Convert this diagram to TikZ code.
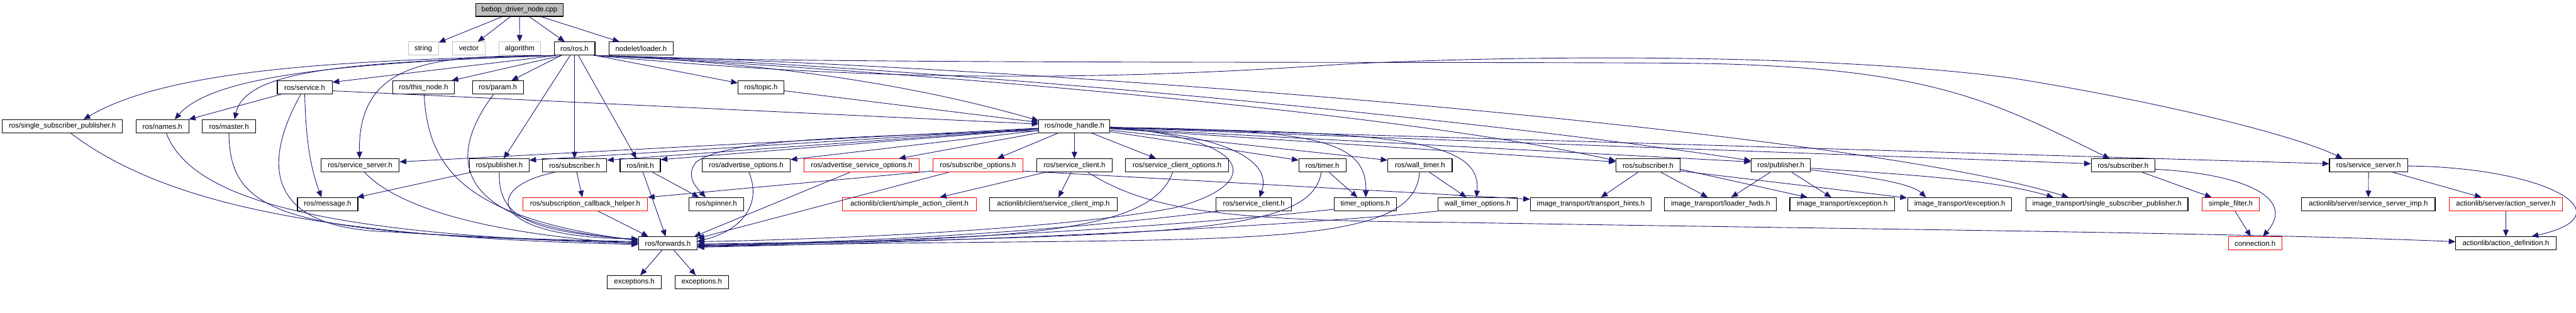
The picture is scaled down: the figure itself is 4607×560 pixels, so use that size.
\documentclass[tikz,border=0pt]{standalone}
\usepackage{fontspec}
\setmainfont{Liberation Sans}
\usetikzlibrary{arrows.meta,calc}
\definecolor{edgec}{HTML}{191970}
\definecolor{gr}{HTML}{BFBFBF}
\begin{document}
\begin{tikzpicture}[x=0.5pt,y=-0.5pt,
  nd/.style={draw=black, fill=white, line width=0.6pt, rectangle, inner sep=0pt, minimum height=11.75pt, font=\fontsize{6.45}{7.5}\selectfont, text=black},
  rednd/.style={nd, draw=red},
  greynd/.style={nd, draw=gr},
  rootnd/.style={nd, fill=gr},
  e/.style={draw=edgec, line width=0.5pt, -{Triangle[length=6pt,width=5pt]}},
]
\useasboundingbox (0,0) rectangle (4607,560);
% row 0/1
\node[rootnd,minimum width=78pt] (cpp) at (929,17.5) {bebop\_driver\_node.cpp};
\node[greynd,minimum width=27pt] (string) at (757,87) {string};
\node[greynd,minimum width=29.5pt] (vector) at (838.5,87) {vector};
\node[greynd,minimum width=37.5pt] (algorithm) at (929.5,87) {algorithm};
\node[nd,minimum width=36.5pt] (ros) at (1027.5,87) {ros/ros.h};
\node[nd,minimum width=57.5pt] (loader) at (1146.5,87) {nodelet/loader.h};
% row 2
\node[nd,minimum width=49pt] (service) at (545,156.5) {ros/service.h};
\node[nd,minimum width=55.5pt] (thisnode) at (757.5,156.5) {ros/this\_node.h};
\node[nd,minimum width=45.5pt] (param) at (890.5,156.5) {ros/param.h};
\node[nd,minimum width=41pt] (topic) at (1361,156.5) {ros/topic.h};
% row 3
\node[nd,minimum width=107.5pt] (ssp) at (111.5,226) {ros/single\_subscriber\_publisher.h};
\node[nd,minimum width=47.5pt] (names) at (290.5,226) {ros/names.h};
\node[nd,minimum width=47.5pt] (master) at (409.5,226) {ros/master.h};
\node[nd,minimum width=63.5pt] (nh) at (1921.5,226) {ros/node\_handle.h};
% row 4
\node[nd,minimum width=70pt] (ssA) at (644,296) {ros/service\_server.h};
\node[nd,minimum width=53pt] (pubA) at (893,296) {ros/publisher.h};
\node[nd,minimum width=57.5pt] (subA) at (1027.5,296) {ros/subscriber.h};
\node[nd,minimum width=36pt] (init) at (1145,296) {ros/init.h};
\node[nd,minimum width=78.5pt] (advopt) at (1334.5,296) {ros/advertise\_options.h};
\node[rednd,minimum width=103pt] (advsrv) at (1541,296) {ros/advertise\_service\_options.h};
\node[rednd,minimum width=80pt] (subopt) at (1749,296) {ros/subscribe\_options.h};
\node[nd,minimum width=67.5pt] (scA) at (1921.5,296) {ros/service\_client.h};
\node[nd,minimum width=92pt] (scopt) at (2105,296) {ros/service\_client\_options.h};
\node[nd,minimum width=42pt] (timer) at (2365,296) {ros/timer.h};
\node[nd,minimum width=57.5pt] (wtimer) at (2539.5,296) {ros/wall\_timer.h};
\node[nd,minimum width=57.5pt] (subB) at (2947.5,296) {ros/subscriber.h};
\node[nd,minimum width=53pt] (pubB) at (3185,296) {ros/publisher.h};
\node[nd,minimum width=57pt] (subC) at (3797,296) {ros/subscriber.h};
\node[nd,minimum width=70pt] (ssB) at (4236,296) {ros/service\_server.h};
% row 5
\node[nd,minimum width=54pt] (message) at (586,365.5) {ros/message.h};
\node[rednd,minimum width=111.5pt] (sch) at (1046.5,365.5) {ros/subscription\_callback\_helper.h};
\node[nd,minimum width=49pt] (spinner) at (1281,365.5) {ros/spinner.h};
\node[rednd,minimum width=119.5pt] (sac) at (1626.5,365.5) {actionlib/client/simple\_action\_client.h};
\node[nd,minimum width=114pt] (scimp) at (1884,365.5) {actionlib/client/service\_client\_imp.h};
\node[nd,minimum width=67.5pt] (scB) at (2242.5,365.5) {ros/service\_client.h};
\node[nd,minimum width=55.5pt] (timeropt) at (2441.5,365.5) {timer\_options.h};
\node[nd,minimum width=70.5pt] (wtimeropt) at (2642.5,365.5) {wall\_timer\_options.h};
\node[nd,minimum width=108pt] (hints) at (2845,365.5) {image\_transport/transport\_hints.h};
\node[nd,minimum width=100pt] (lfwds) at (3077,365.5) {image\_transport/loader\_fwds.h};
\node[nd,minimum width=93.5pt] (excA) at (3294.5,365.5) {image\_transport/exception.h};
\node[nd,minimum width=93pt] (excB) at (3505,365.5) {image\_transport/exception.h};
\node[nd,minimum width=145pt] (itssp) at (3768,365.5) {image\_transport/single\_subscriber\_publisher.h};
\node[rednd,minimum width=51.5pt] (sfilter) at (3989.5,365.5) {simple\_filter.h};
\node[nd,minimum width=119.5pt] (ssimp) at (4235.5,365.5) {actionlib/server/service\_server\_imp.h};
\node[rednd,minimum width=101.5pt] (aserver) at (4481.5,365.5) {actionlib/server/action\_server.h};
% row 6/7
\node[nd,minimum width=52.5pt] (fwd) at (1194.5,435.5) {ros/forwards.h};
\node[rednd,minimum width=48pt] (conn) at (4033,435.5) {connection.h};
\node[nd,minimum width=89.5pt] (adef) at (4481.5,435.5) {actionlib/action\_definition.h};
\node[nd,minimum width=48.5pt] (excs1) at (1134.5,505) {exceptions.h};
\node[nd,minimum width=48pt] (excs2) at (1255,505) {exceptions.h};

% ---- edges from the root
\draw[e] (cpp) -- (string);
\draw[e] (cpp) -- (vector);
\draw[e] (cpp) -- (algorithm);
\draw[e] (cpp) -- (ros);
\draw[e] (cpp) -- (loader);
% ---- ros.h to the left
\draw[e] (ros.south west) .. controls (600,108) and (300,125) .. ($(ssp.north)+(38,0)$);
\draw[e] (ros.south west) .. controls (620,112) and (380,135) .. ($(names.north)+(22,0)$);
\draw[e] (ros.south west) .. controls (650,112) and (440,120) .. ($(master.north)+(10,0)$);
\draw[e] ($(ros.south west)+(4,0)$) -- ($(service.north east)+(0,3)$);
\draw[e] ($(ros.south)+(-23,0)$) -- ($(thisnode.north east)+(-6,0)$);
\draw[e] (ros) -- (param);
\draw[e] ($(ros.south west)+(2,0)$) .. controls (780,100) and (640,105) .. ($(ssA.north)+(-1,0)$);
\draw[e] (ros) -- (pubA);
\draw[e] (ros) -- (subA);
\draw[e] (ros) -- (init);
% ---- ros.h to the right
\draw[e] (ros.south east) -- ($(topic.west)+(0,-8)$);
\draw[e] (ros.south east) .. controls (1450,115) and (1700,170) .. ($(nh.west)+(0,-10)$);
\draw[e] ($(ros.south east)+(-3,0)$) .. controls (1400,115) and (2500,110) .. (3000,113) .. controls (3450,117) and (3560,180) .. ($(subC.north)+(-24,0)$);
\draw[e] (ros.south east) .. controls (1500,140) and (1900,150) .. (2400,115) .. controls (2800,95) and (3300,100) .. (3600,140) .. controls (3850,180) and (4100,240) .. ($(ssB.north west)+(24,0)$);
\draw[e] (ros.south east) .. controls (1600,125) and (2500,200) .. ($(subB.north west)+(0,4)$);
\draw[e] (ros.south east) .. controls (1700,120) and (2700,220) .. ($(pubB.north west)+(0,4)$);
\draw[e] (ros.south east) .. controls (1800,115) and (3300,230) .. ($(itssp.north west)+(77,0)$);
% ---- row 2 sources
\draw[e] ($(service.south west)+(7,0)$) -- ($(names.north east)+(-1,0)$);
\draw[e] ($(service.east)+(0,6)$) -- ($(nh.west)+(0,-4)$);
\draw[e] (service.south) .. controls (547,250) and (555,300) .. ($(message.north)+(-11,0)$);
\draw[e] ($(service.south)+(-7,0)$) .. controls (470,290) and (470,410) .. (700,415) .. controls (900,428) and (1050,430) .. ($(fwd.west)+(0,-3)$);
\draw[e] ($(thisnode.south)+(1,0)$) .. controls (765,300) and (830,390) .. ($(fwd.west)+(0,-5)$);
\draw[e] ($(param.south)+(-8,0)$) .. controls (800,280) and (800,400) .. ($(fwd.west)+(0,-6)$);
\draw[e] ($(topic.east)+(0,6)$) -- ($(nh.west)+(0,-7)$);
% ---- row 3 sources
\draw[e] ($(ssp.south)+(15,0)$) .. controls (300,370) and (600,425) .. ($(fwd.west)+(0,2)$);
\draw[e] ($(names.south)+(7,0)$) .. controls (340,350) and (550,420) .. ($(fwd.west)+(0,0)$);
\draw[e] (master.south) .. controls (410,390) and (520,420) .. ($(fwd.west)+(0,-2)$);
% ---- node_handle.h
\draw[e] (nh) -- ($(ssA.north east)+(0,6)$);
\draw[e] (nh) -- ($(pubA.north east)+(0,3)$);
\draw[e] (nh) -- ($(subA.north east)+(0,3)$);
\draw[e] (nh) -- ($(init.north east)+(0,2)$);
\draw[e] (nh) -- ($(advopt.north east)+(0,2)$);
\draw[e] (nh) -- ($(advsrv.north east)+(-37,0)$);
\draw[e] (nh) -- ($(subopt.north east)+(-46,0)$);
\draw[e] (nh) -- (scA);
\draw[e] (nh) -- ($(scopt.north west)+(55,0)$);
\draw[e] (nh) -- ($(timer.north west)+(0,3)$);
\draw[e] (nh) -- ($(wtimer.north west)+(0,3)$);
\draw[e] (nh) -- ($(subB.north west)+(0,6)$);
\draw[e] (nh) -- ($(pubB.north west)+(0,6)$);
\draw[e] (nh) -- ($(subC.west)+(0,-3)$);
\draw[e] (nh) -- ($(ssB.west)+(0,-3)$);
\draw[e] ($(nh.east)+(0,2)$) .. controls (2350,232) and (2445,250) .. ($(timeropt.north)+(1,0)$);
\draw[e] ($(nh.east)+(0,3)$) .. controls (2500,236) and (2650,250) .. ($(wtimeropt.north)+(-2,0)$);
\draw[e] ($(nh.east)+(0,4)$) .. controls (2200,240) and (2275,290) .. ($(scB.north)+(10,0)$);
\draw[e] ($(nh.west)+(0,8)$) .. controls (1500,245) and (1300,250) .. (1245,290) .. controls (1225,315) and (1245,335) .. ($(spinner.north)+(-19,0)$);
\draw[e] ($(nh.east)+(0,1)$) .. controls (2250,250) and (2260,330) .. (2100,372) .. controls (1900,410) and (1500,428) .. ($(fwd.east)+(0,-3)$);
% ---- row 4 sources (left part)
\draw[e] ($(ssA.south)+(8,0)$) .. controls (720,380) and (900,420) .. ($(fwd.west)+(0,1)$);
\draw[e] ($(pubA.south west)+(3,0)$) -- ($(message.north east)+(-2,0)$);
\draw[e] (pubA.south) .. controls (890,390) and (950,415) .. ($(fwd.west)+(0,-7)$);
\draw[e] ($(subA.south)+(4,0)$) -- ($(sch.north)+(-5,0)$);
\draw[e] ($(subA.south west)+(23,0)$) .. controls (860,335) and (870,425) .. ($(fwd.west)+(0,-8)$);
\draw[e] ($(sch.south)+(23,0)$) -- ($(fwd.north west)+(18,0)$);
\draw[e] ($(init.south)+(22,0)$) -- ($(spinner.north)+(-31,0)$);
\draw[e] ($(init.south)+(5,0)$) -- ($(fwd.north)+(-4,0)$);
\draw[e] ($(advopt.south)+(5,0)$) .. controls (1365,370) and (1320,415) .. ($(fwd.east)+(0,-4)$);
\draw[e] ($(advsrv.south)+(-21,0)$) -- ($(fwd.north east)+(-6,0)$);
\draw[e] ($(subopt.south west)+(28,0)$) -- ($(fwd.east)+(0,-9)$);
\draw[e] ($(subopt.west)+(0,10)$) -- (sch.north east);
\draw[e] ($(subopt.east)+(0,10)$) -- ($(hints.west)+(0,-9)$);
% ---- service_client (actionlib)
\draw[e] ($(scA.south west)+(16,0)$) -- ($(sac.north east)+(-66,0)$);
\draw[e] ($(scA.south)+(-6,0)$) -- ($(scimp.north)+(9,0)$);
\draw[e] ($(scA.south)+(24,0)$) .. controls (2060,380) and (2200,395) .. (2600,398) .. controls (3300,410) and (4000,416) .. ($(adef.west)+(0,-3)$);
% ---- into forwards from the right
\draw[e] ($(scopt.south)+(-8,0)$) .. controls (2060,420) and (1800,430) .. ($(fwd.east)+(0,1)$);
\draw[e] ($(scB.south west)+(5,0)$) .. controls (2000,400) and (1700,430) .. ($(fwd.east)+(0,3)$);
\draw[e] ($(timer.south)+(-2,0)$) .. controls (2345,420) and (2100,420) .. ($(fwd.east)+(0,4)$);
\draw[e] ($(timer.south)+(12,0)$) -- ($(timeropt.north)+(-14,0)$);
\draw[e] ($(timeropt.west)+(0,9)$) .. controls (2200,395) and (1800,428) .. ($(fwd.east)+(0,5)$);
\draw[e] ($(wtimer.south)+(17,0)$) -- ($(wtimeropt.north)+(-20,0)$);
\draw[e] ($(wtimer.south)+(-1,0)$) .. controls (2530,460) and (2150,420) .. ($(fwd.east)+(0,6)$);
\draw[e] (wtimeropt.south west) .. controls (2300,405) and (1800,430) .. ($(fwd.east)+(0,7)$);
% ---- image_transport
\draw[e] (subB) -- (hints);
\draw[e] (subB) -- (lfwds);
\draw[e] ($(subB.east)+(0,7)$) -- ($(excA.north west)+(32,0)$);
\draw[e] ($(subB.east)+(0,10)$) -- ($(excB.north west)+(-1,1)$);
\draw[e] (pubB) -- (lfwds);
\draw[e] (pubB) -- (excA);
\draw[e] ($(pubB.east)+(0,8)$) .. controls (3360,318) and (3420,330) .. ($(excB.north west)+(33,0)$);
\draw[e] ($(pubB.east)+(0,5)$) .. controls (3400,312) and (3560,320) .. ($(itssp.north west)+(50,0)$);
% ---- message_filters
\draw[e] (subC) -- (sfilter);
\draw[e] ($(subC.east)+(0,7)$) .. controls (4000,310) and (4110,350) .. ($(conn.north)+(14,0)$);
\draw[e] (sfilter) -- (conn);
% ---- actionlib server
\draw[e] (ssB) -- (ssimp);
\draw[e] (ssB) -- (aserver);
\draw[e] ($(ssB.east)+(0,1)$) .. controls (4560,300) and (4700,385) .. ($(adef.north east)+(-44,0)$);
\draw[e] (aserver) -- (adef);
% ---- forwards
\draw[e] (fwd) -- (excs1);
\draw[e] (fwd) -- (excs2);
\end{tikzpicture}
\end{document}
